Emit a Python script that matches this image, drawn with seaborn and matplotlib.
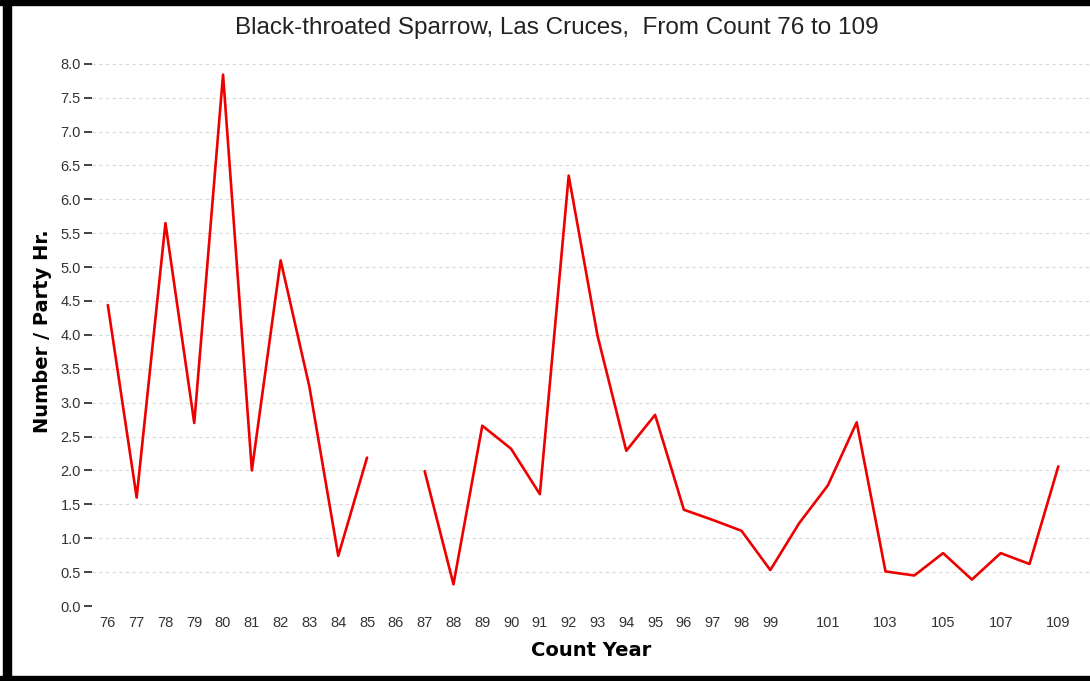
import numpy as np
import pandas as pd
import matplotlib
matplotlib.use("Agg")
import matplotlib.pyplot as plt
import seaborn as sns

# data (86 has no value -> gap in the line)
years = list(range(76, 110))
per_party_hr = [4.44, 1.6, 5.65, 2.70, 7.84, 2.0, 5.10, 3.23, 0.74, 2.19,
                np.nan, 1.99, 0.32, 2.66, 2.32, 1.65, 6.35, 3.99, 2.29, 2.82,
                1.42, 1.27, 1.11, 0.53, 1.22, 1.78, 2.71, 0.51, 0.45, 0.78,
                0.39, 0.78, 0.62, 2.06]
year_labels = [str(y) for y in range(76, 100)] + ["101", "103", "105", "107", "109"]
y_ticks = [i * 0.5 for i in range(17)]

title = "Black-throated Sparrow, Las Cruces,  From Count 76 to 109"

df = pd.DataFrame({"year": years, "value": per_party_hr})
df["segment"] = df["value"].isna().cumsum()
df = df.dropna()

sns.set_style("white")
plt.rcParams['font.family'] = ['Liberation Sans', 'DejaVu Sans']

fig = plt.figure(figsize=(10.9, 6.81), dpi=100)
ax = fig.add_axes([92 / 1090, 1 - 606 / 681, 1 - 92 / 1090, (606 - 57) / 681])

sns.lineplot(data=df, x="year", y="value", units="segment", estimator=None,
             color="#ee0000", linewidth=1.9, ax=ax, legend=False)

ax.set_xlim(75.45, 110.1)
ax.set_ylim(0, 8.1)
ax.set_yticks(y_ticks)
ax.set_yticklabels([f"{v:.1f}" for v in y_ticks])
ax.set_xticks([int(s) for s in year_labels])
ax.set_xticklabels(year_labels)
ax.tick_params(axis="y", left=True, length=6, width=1.3, color="#333333", labelsize=10.5,
               labelcolor="#333333", pad=2)
ax.tick_params(axis="x", bottom=False, length=0, labelsize=10.5, labelcolor="#333333", pad=7)
ax.grid(axis="y", color="#d8d8d8", linestyle=(0, (3, 3)), linewidth=0.8)
ax.grid(axis="x", visible=False)
for s in ax.spines.values():
    s.set_visible(False)

ax.set_xlabel("Count Year", fontsize=14, fontweight="bold", family="DejaVu Sans",
              color="black", labelpad=8)
ax.set_ylabel("Number / Party Hr.", fontsize=14, fontweight="bold", family="DejaVu Sans",
              color="black", labelpad=6)
fig.text(557 / 1090, 1 - 28 / 681, title, ha="center", va="center",
         fontsize=17.5, color="#222222")

# black frame on left, top and bottom like the screenshot
fig.patches.append(plt.Rectangle((3 / 1090, 0), 8 / 1090, 1, transform=fig.transFigure,
                                 color="black", zorder=10))
fig.patches.append(plt.Rectangle((0, 1 - 5 / 681), 1, 5 / 681, transform=fig.transFigure,
                                 color="black", zorder=10))
fig.patches.append(plt.Rectangle((0, 0), 1, 5 / 681, transform=fig.transFigure,
                                 color="black", zorder=10))

fig.savefig("out.png", dpi=100)
